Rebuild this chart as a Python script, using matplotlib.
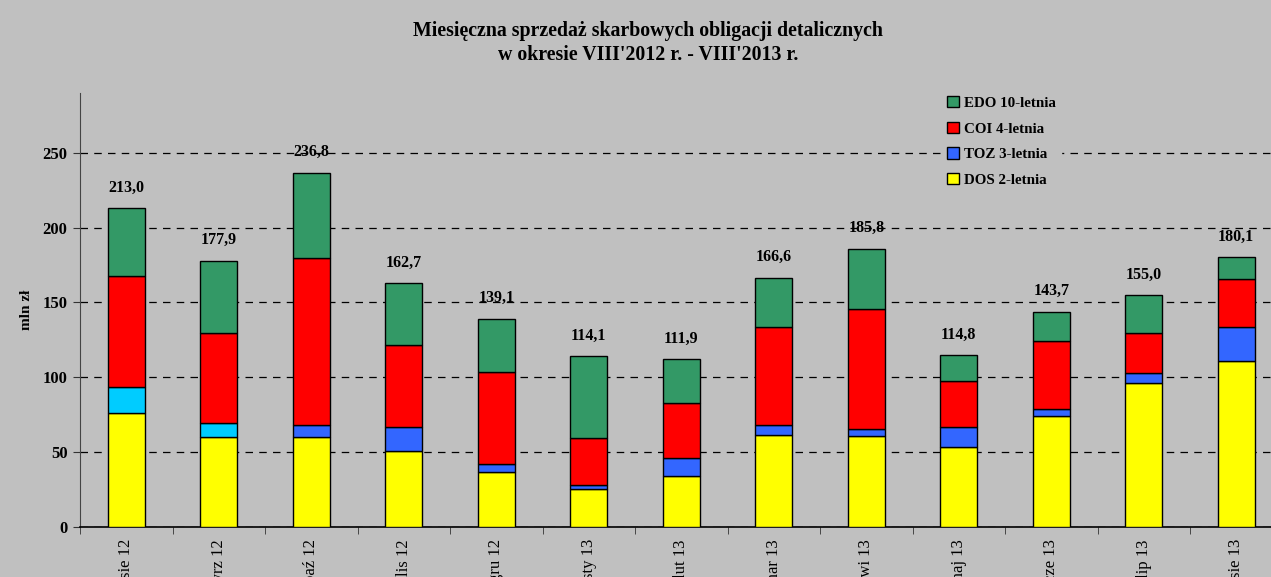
import numpy as np
import matplotlib.pyplot as plt
from matplotlib.patches import Patch

# data (mln zł)
months = ["sie 12", "wrz 12", "paź 12", "lis 12", "gru 12", "sty 13", "lut 13",
          "mar 13", "kwi 13", "maj 13", "cze 13", "lip 13", "sie 13"]
dos = [76.0, 60.3, 60.3, 50.3, 36.4, 25.0, 33.8, 61.2, 60.6, 53.2, 74.0, 96.1, 110.9]
toz = [17.2, 9.0, 7.9, 16.7, 5.4, 2.7, 12.0, 6.5, 4.9, 13.8, 4.7, 6.4, 22.7]
coi = [74.4, 60.3, 111.7, 54.3, 61.7, 31.5, 37.1, 66.1, 80.2, 30.2, 45.8, 27.1, 31.7]
edo = [45.4, 48.3, 56.9, 41.4, 35.6, 54.9, 29.0, 32.8, 40.1, 17.6, 19.2, 25.4, 14.8]
totals = [213.0, 177.9, 236.8, 162.7, 139.1, 114.1, 111.9, 166.6, 185.8, 114.8, 143.7, 155.0, 180.1]

BG = "#C0C0C0"
c_dos = "#FFFF00"
c_toz = "#3366FF"
c_toz_old = "#00CCFF"  # first two months drawn in light blue
c_coi = "#FF0000"
c_edo = "#339966"

plt.rcParams['font.family'] = ['Liberation Serif', 'DejaVu Serif']

fig = plt.figure(figsize=(12.71, 5.77), dpi=100, facecolor=BG)
ax = fig.add_axes([80 / 1271, 50.3 / 577, 1202.5 / 1271, 433.7 / 577])
ax.set_facecolor(BG)

x = np.arange(len(months))
w = 0.4
toz_colors = [c_toz_old if i < 2 else c_toz for i in range(len(months))]

b1 = np.array(dos)
b2 = b1 + np.array(toz)
b3 = b2 + np.array(coi)
kw = dict(width=w, edgecolor="black", linewidth=1, zorder=3)
ax.bar(x, dos, color=c_dos, **kw)
ax.bar(x, toz, bottom=b1, color=toz_colors, **kw)
ax.bar(x, coi, bottom=b2, color=c_coi, **kw)
ax.bar(x, edo, bottom=b3, color=c_edo, **kw)

for xi, t, top in zip(x, totals, b3 + np.array(edo)):
    ax.annotate(f"{t:.1f}".replace(".", ","), (xi, top), xytext=(0, 9),
                textcoords="offset points", ha="center", va="bottom",
                fontsize=11.5, fontweight="bold", zorder=4)

ax.set_xlim(-0.5, len(months) - 0.5)
ax.set_ylim(0, 290)
ax.set_yticks(range(0, 251, 50))
ax.set_yticklabels([str(v) for v in range(0, 251, 50)], fontweight="bold", fontsize=12)
ax.yaxis.grid(True, color="black", linestyle=(0, (6, 5)), linewidth=0.9, zorder=1)
ax.set_axisbelow(True)

ax.set_xticks(x)
ax.set_xticklabels(months, rotation=90, fontsize=12)
ax.set_xticks(np.arange(-0.5, len(months), 1), minor=True)
ax.tick_params(axis="x", which="major", length=0, pad=9)
ax.tick_params(axis="x", which="minor", length=5, direction="out", color="#333333")
ax.tick_params(axis="y", length=5, direction="out", color="#333333", pad=4)

for s in ["top", "right"]:
    ax.spines[s].set_visible(False)
ax.spines["left"].set_color("#444444")
ax.spines["bottom"].set_color("black")
ax.spines["bottom"].set_linewidth(1.2)

ax.set_ylabel("mln zł", fontweight="bold", fontsize=11, labelpad=7)

fig.text(648 / 1271, 1 - 31 / 577, "Miesięczna sprzedaż skarbowych obligacji detalicznych",
         ha="center", va="center", fontsize=14.3, fontweight="bold")
fig.text(648 / 1271, 1 - 55 / 577, "w okresie VIII'2012 r. - VIII'2013 r.",
         ha="center", va="center", fontsize=14.3, fontweight="bold")

handles = [Patch(facecolor=c_edo, edgecolor="black", label="EDO 10-letnia"),
           Patch(facecolor=c_coi, edgecolor="black", label="COI 4-letnia"),
           Patch(facecolor=c_toz, edgecolor="black", label="TOZ 3-letnia"),
           Patch(facecolor=c_dos, edgecolor="black", label="DOS 2-letnia")]
leg = ax.legend(handles=handles, loc="upper left", bbox_to_anchor=(935 / 1271, 1 - 84 / 577),
                bbox_transform=fig.transFigure, frameon=True, facecolor=BG, edgecolor=BG,
                framealpha=1, fancybox=False, prop={"weight": "bold", "size": 10.8},
                handlelength=0.8, handleheight=0.8, handletextpad=0.35, labelspacing=0.78,
                borderpad=0.3)
leg.set_zorder(5)

fig.savefig("out.png", dpi=100, facecolor=BG)
